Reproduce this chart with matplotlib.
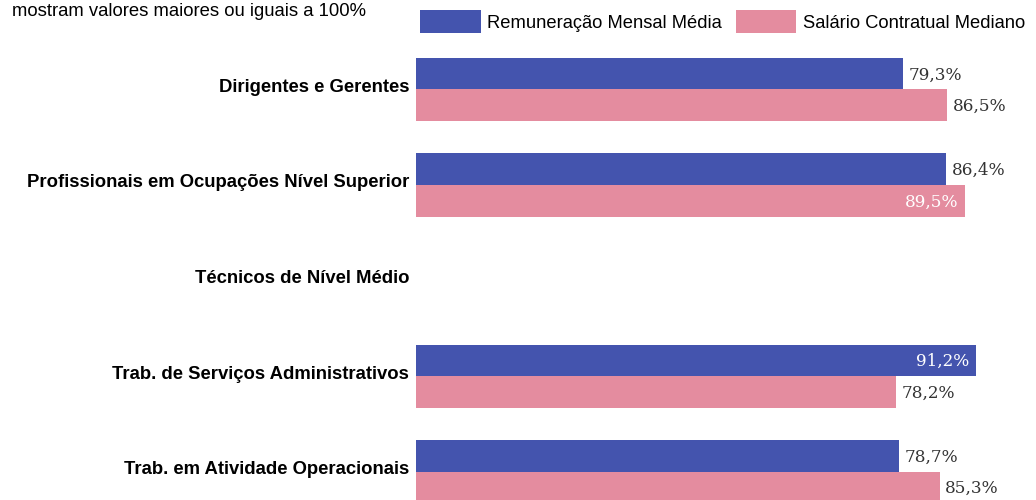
import numpy as np
import matplotlib
matplotlib.use("Agg")
import matplotlib.pyplot as plt
import matplotlib.transforms as mtransforms

# data
categorias = ["Dirigentes e Gerentes",
              "Profissionais em Ocupações Nível Superior",
              "Técnicos de Nível Médio",
              "Trab. de Serviços Administrativos",
              "Trab. em Atividade Operacionais"]
remuneracao = [79.3, 86.4, np.nan, 91.2, 78.7]
salario = [86.5, 89.5, np.nan, 78.2, 85.3]
# labels that sit inside the bar (white text)
dentro_rem = [False, False, False, True, False]
dentro_sal = [False, True, False, False, False]

cor_azul = "#4454AE"
cor_rosa = "#E48C9F"

plt.rcParams["font.family"] = ["Liberation Sans", "DejaVu Sans"]

fig = plt.figure(figsize=(10.36, 5.0), dpi=100)
ax = fig.add_axes([416 / 1036, 0.0, 1 - 416 / 1036, 1 - 40 / 500])

y = np.arange(len(categorias))
h = 0.33
b1 = ax.barh(y - h / 2, np.nan_to_num(remuneracao), height=h, color=cor_azul,
             label="Remuneração Mensal Média")
b2 = ax.barh(y + h / 2, np.nan_to_num(salario), height=h, color=cor_rosa,
             label="Salário Contratual Mediano")

def rotular(barras, valores, dentro):
    for bar, v, d in zip(barras, valores, dentro):
        if np.isnan(v):
            continue
        txt = f"{v:.1f}%".replace(".", ",")
        yc = bar.get_y() + bar.get_height() / 2
        if d:
            ax.annotate(txt, (v, yc), xytext=(-5, -1), textcoords="offset points",
                        ha="right", va="center", color="white",
                        fontsize=12.2, family="DejaVu Serif")
        else:
            ax.annotate(txt, (v, yc), xytext=(4, -1), textcoords="offset points",
                        ha="left", va="center", color="#333333",
                        fontsize=12.2, family="DejaVu Serif")

rotular(b1, remuneracao, dentro_rem)
rotular(b2, salario, dentro_sal)

ax.set_xlim(0, 101)
ax.set_ylim(4.298, -0.518)
ax.set_yticks(y)
ax.set_yticklabels(categorias, fontsize=13.3, fontweight="bold")
ax.tick_params(axis="y", length=0, pad=5)
ax.set_xticks([])
for s in ax.spines.values():
    s.set_visible(False)
# category labels sit a few pixels above the pair centre
deslocar = mtransforms.ScaledTranslation(0, 4 / 100, fig.dpi_scale_trans)
for lbl in ax.get_yticklabels():
    lbl.set_transform(lbl.get_transform() + deslocar)

fig.text(12 / 1036, 1 - 11 / 500, "mostram valores maiores ou iguais a 100%",
         fontsize=13.3, va="center", ha="left")

fig.legend(handles=[b1, b2], loc="upper left", bbox_to_anchor=(413 / 1036, 1 - 3 / 500),
           ncol=2, frameon=False, fontsize=13.2, handlelength=3.3,
           handleheight=1.55, handletextpad=0.35, columnspacing=0.75,
           borderaxespad=0.2, borderpad=0.2)

fig.savefig("out.png", dpi=100)
